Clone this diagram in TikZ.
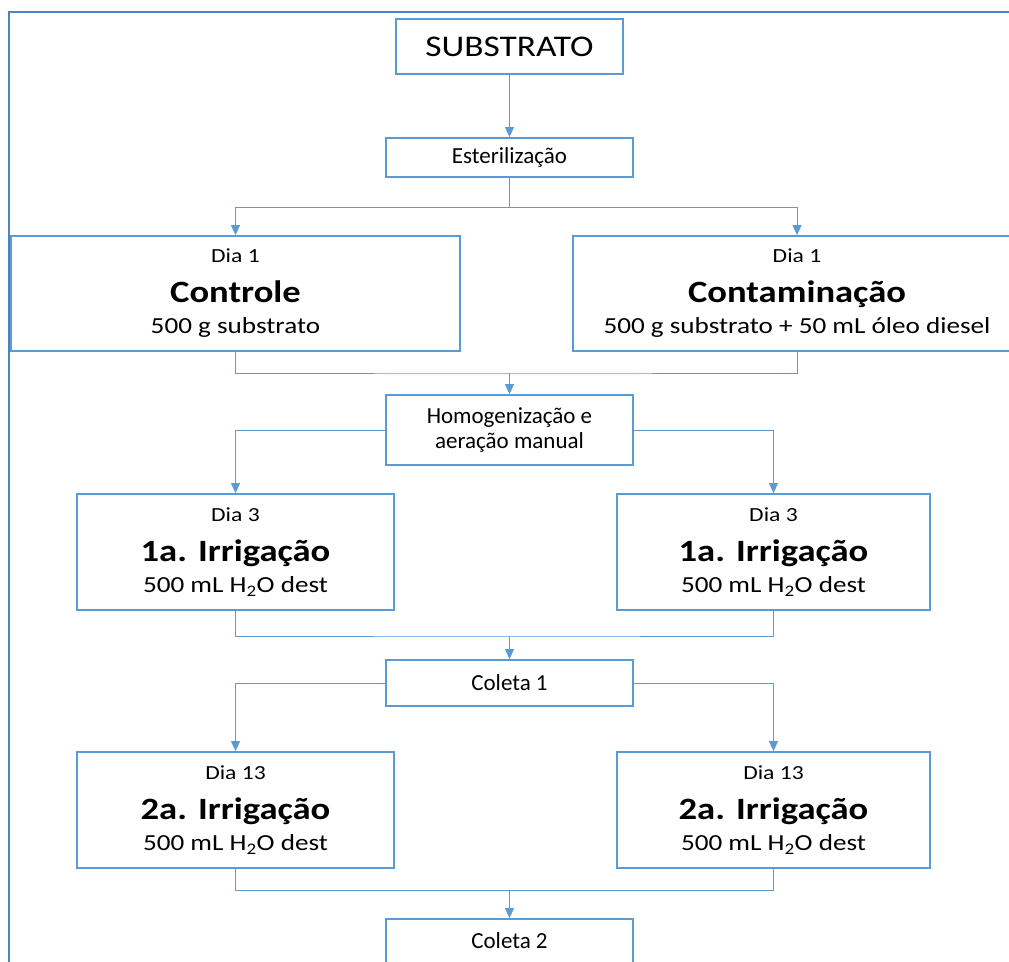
\documentclass[tikz,border=0pt]{standalone}
\usepackage{fontspec}
\setmainfont{Carlito}
\newfontfamily\widefont{Carlito}[FakeStretch=1.18]
\usetikzlibrary{arrows.meta,calc}
\definecolor{bl}{HTML}{5B9BD5}
\definecolor{fr}{HTML}{4F81BD}
\tikzset{
  box/.style={draw=bl,line width=1.8pt,fill=white,inner sep=0pt,align=center,text=black},
  link/.style={draw=bl,line width=1pt},
  arr/.style={link,-{Triangle[length=10pt,width=9pt]}},
  diabox/.style={box,font=\widefont\fontsize{23}{31}\selectfont},
  smallbox/.style={box,font=\fontsize{23}{25}\selectfont},
  frame/.style={draw=fr,line width=2pt},
}
\newcommand\trio[3]{{\fontsize{20}{31}\selectfont #1}\\[9pt]{\fontsize{31}{31}\selectfont\bfseries #2}\\#3}
\begin{document}
\begin{tikzpicture}[x=1pt,y=-1pt]
\useasboundingbox (0,0) rectangle (1009,961);
\clip (0,0) rectangle (1009,961);
\draw[frame] (9,12) rectangle (1040,1000);

\node[box,minimum width=227pt,minimum height=55pt,font=\widefont\fontsize{30}{30}\selectfont] (sub) at (509.5,46.5) {SUBSTRATO};
\node[smallbox,minimum width=247pt,minimum height=39pt] (est) at (509.5,157.5) {Esterilização};
\node[diabox,minimum width=449pt,minimum height=115pt] (ctrl) at (235.5,293.5) {\trio{Dia 1}{Controle}{500 g substrato}};
\node[diabox,minimum width=448pt,minimum height=115pt] (cont) at (797,293.5) {\trio{Dia 1}{Contaminação}{500 g substrato + 50 mL óleo diesel}};
\node[smallbox,minimum width=247pt,minimum height=70pt] (hom) at (509.5,430) {Homogenização e\\aeração manual};
\node[diabox,minimum width=317pt,minimum height=116pt] (i1l) at (235.5,552) {\trio{Dia 3}{1a. Irrigação}{500 mL H\textsubscript{2}O dest}};
\node[diabox,minimum width=313pt,minimum height=116pt] (i1r) at (773.5,552) {\trio{Dia 3}{1a. Irrigação}{500 mL H\textsubscript{2}O dest}};
\node[smallbox,minimum width=247pt,minimum height=46pt] (c1) at (509.5,683) {Coleta 1};
\node[diabox,minimum width=317pt,minimum height=116pt] (i2l) at (235.5,810) {\trio{Dia 13}{2a. Irrigação}{500 mL H\textsubscript{2}O dest}};
\node[diabox,minimum width=313pt,minimum height=116pt] (i2r) at (773.5,810) {\trio{Dia 13}{2a. Irrigação}{500 mL H\textsubscript{2}O dest}};
\node[smallbox,minimum width=247pt,minimum height=44pt] (c2) at (509.5,941) {Coleta 2};

\draw[arr] (sub) -- (est);
\coordinate (j1) at (509.5,207);
\draw[link] (est.south) -- (j1);
\draw[arr] (j1) -| (ctrl.north);
\draw[arr] (j1) -| (cont.north);
\coordinate (j2) at (509.5,373);
\draw[link] (ctrl.south) |- (j2) -| (cont.south);
\draw[arr] (j2) -- (hom.north);
\draw[arr] (hom.west) -| (i1l.north);
\draw[arr] (hom.east) -| (i1r.north);
\coordinate (j3) at (509.5,636);
\draw[link] (i1l.south) |- (j3) -| (i1r.south);
\draw[arr] (j3) -- (c1.north);
\draw[arr] (c1.west) -| (i2l.north);
\draw[arr] (c1.east) -| (i2r.north);
\coordinate (j4) at (509.5,890);
\draw[link] (i2l.south) |- (j4) -| (i2r.south);
\draw[arr] (j4) -- (c2.north);
\end{tikzpicture}
\end{document}
